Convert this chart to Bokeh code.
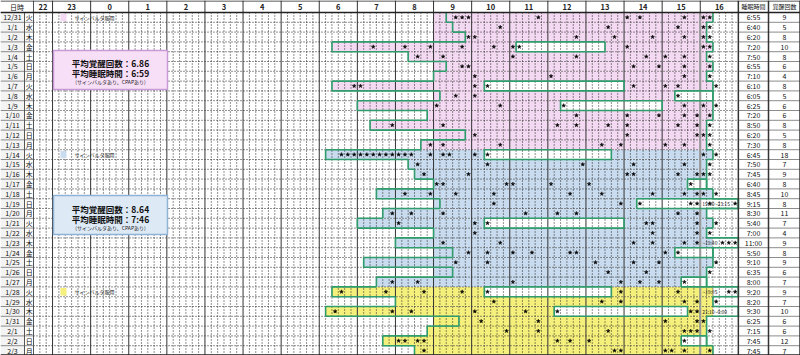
from bokeh.plotting import figure
from bokeh.models import Range1d
from bokeh.embed import file_html
from bokeh.resources import INLINE
from bokeh.core.properties import value

# ---------------- data ----------------
dates = ["12/31", "1/1", "1/2", "1/3", "1/4", "1/5", "1/6", "1/7", "1/8", "1/9", "1/10", "1/11", "1/12", "1/13",
         "1/14", "1/15", "1/16", "1/17", "1/18", "1/19", "1/20", "1/21", "1/22", "1/23", "1/24", "1/25", "1/26", "1/27",
         "1/28", "1/29", "1/30", "1/31", "2/1", "2/2", "2/3"]
weekdays = ["火", "水", "木", "金", "土", "日", "月"] * 5
period = ["pink"] * 14 + ["blue"] * 14 + ["yellow"] * 7

bed_start = ["9:20", "9:30", "9:50", "6:20", "8:20", "9:20", "9:00", "6:20", "9:10", "7:00", "8:50", "7:20", "9:50", "8:40",
             "6:10", "8:20", "8:30", "9:00", "7:30", "9:10", "7:40", "7:00", "9:00", "8:00", "9:30", "7:10", "9:30", "7:30",
             "6:20", "8:00", "6:10", "9:40", "8:50", "7:40", "8:30"]
bed_end = ["16:20", "16:10", "16:10", "16:20", "16:10", "16:20", "16:10", "16:20", "16:20", "16:20", "16:20", "16:10", "16:10", "16:10",
           "16:20", "16:10", "16:10", "16:10", "16:20", "17:00", "16:10", "16:20", "16:10", "17:00", "16:20", "16:20", "16:10", "16:10",
           "17:00", "16:20", "17:00", "16:10", "16:10", "16:10", "16:20"]

gap_row = [3, 7, 8, 9, 14, 17, 19, 21, 24, 27, 28, 30, 33]
gap_from = ["11:10", "10:20", "15:20", "12:20", "10:20", "15:40", "14:20", "10:20", "15:20", "15:30", "10:20", "12:10", "15:30"]
gap_to = ["13:30", "14:00", "16:20", "15:00", "13:40", "16:10", "17:00", "14:00", "16:20", "16:10", "13:40", "15:40", "16:10"]

wakes = [
    ["9:35", "9:45", "9:55", "11:45", "14:05", "14:25", "15:35", "16:05", "16:15"],
    ["10:45", "13:35", "15:25", "16:05", "16:15"],
    ["9:55", "10:05", "12:45", "13:45", "14:45", "15:35", "16:05", "16:15"],
    ["7:25", "8:15", "8:55", "9:45", "10:35", "11:05", "11:15", "14:05", "16:05", "16:15"],
    ["8:35", "9:15", "11:05", "12:45", "14:35", "15:05", "15:35", "16:15"],
    ["9:45", "9:55", "14:15", "14:55", "15:35", "16:15"],
    ["10:05", "12:05", "15:35", "16:15"],
    ["6:55", "7:05", "10:05", "10:25", "14:15", "15:05", "15:25", "16:25"],
    ["9:35", "10:05", "15:25"],
    ["9:05", "10:45", "12:25", "15:35", "16:05", "16:25"],
    ["12:45", "14:05", "14:55", "15:35", "15:55", "16:15"],
    ["7:55", "9:15", "12:15", "12:45", "13:35", "14:05", "15:25", "15:55", "16:15"],
    ["10:05", "14:05", "15:55", "16:05", "16:15"],
    ["8:55", "9:15", "10:45", "13:25", "13:55", "15:05", "15:35", "16:15"],
    ["6:35", "6:45", "6:55", "7:05", "7:15", "7:25", "7:35", "7:45", "7:55", "8:05", "8:15", "8:25",
     "8:55", "9:15", "9:25", "10:05", "10:25", "16:05", "16:25"],
    ["8:35", "10:25", "12:55", "14:15", "15:35", "16:15"],
    ["8:45", "9:55", "14:05", "14:15", "15:25", "15:55", "16:05", "16:15"],
    ["9:05", "9:15", "10:55", "11:05", "12:05", "13:05", "15:45"],
    ["8:15", "8:55", "9:35", "10:35", "12:35", "13:25", "14:45", "15:35", "15:55", "16:05", "16:25"],
    ["10:35", "13:55", "14:25", "15:45", "15:55", "16:15", "16:55"],
    ["7:55", "8:25", "9:15", "11:25", "12:15", "12:45", "15:25", "15:55"],
    ["8:05", "10:05", "10:25", "14:35", "14:45", "15:55", "16:25"],
    ["10:05", "14:45", "15:55", "16:15"],
    ["9:15", "10:45", "14:15", "14:45", "15:35", "15:55", "16:35", "16:45", "16:55"],
    ["9:55", "10:25", "11:05", "11:35", "12:35", "12:45", "15:05", "15:25"],
    ["9:35", "10:25", "13:15", "14:15", "14:55", "16:25"],
    ["13:35", "14:35", "16:15"],
    ["7:55", "8:35", "11:05", "13:55", "14:25", "14:55", "15:35"],
    ["6:35", "7:45", "8:45", "9:45", "10:25", "13:55", "15:25", "16:45", "16:55"],
    ["10:35", "13:25", "13:55", "15:35", "15:55", "16:25"],
    ["6:25", "7:55", "8:25", "10:05", "11:25", "12:15", "15:45", "15:55"],
    ["10:15", "11:45", "15:05", "15:55", "16:05"],
    ["10:55", "11:45", "13:35", "15:35", "15:45", "15:55", "16:15"],
    ["8:05", "8:15", "8:35", "8:45", "12:15", "12:35", "13:05", "15:35"],
    ["8:45", "13:45", "13:55", "15:05", "15:15", "15:35", "16:15"],
]

sleep_time = ["6:55", "6:40", "6:20", "7:20", "7:50", "6:55", "7:10", "6:10", "6:05", "6:25", "7:20", "8:50", "6:20", "7:30",
              "6:45", "7:50", "7:45", "6:40", "8:45", "9:15", "8:30", "5:40", "7:00", "11:00", "5:50", "9:10", "6:35", "8:00",
              "9:20", "8:20", "9:30", "6:25", "7:15", "7:45", "7:45"]
wake_count = [9, 5, 8, 10, 8, 6, 4, 8, 5, 6, 6, 8, 5, 8,
              18, 7, 9, 8, 10, 8, 11, 7, 4, 9, 8, 9, 6, 7,
              9, 7, 10, 6, 6, 12, 7]

note_row = [19, 23, 28, 30]
note_text = ["19:00~23:15", "~19:40", "~19:05", "21:10~0:00"]

hour_labels = ["22", "23", "0", "1", "2", "3", "4", "5", "6", "7", "8", "9", "10", "11", "12", "13", "14", "15", "16"]
legend_rows = [0, 14, 28]
legend_label = "サインバルタ服用"
summary_wake = ["平均覚醒回数：6.86", "平均覚醒回数：8.64"]
summary_sleep = ["平均睡眠時間：6:59", "平均睡眠時間：7:46"]
summary_note = "(サインバルタあり、CPAPあり)"

# ---------------- styles / layout ----------------
FILL = {"pink": "#f3d9f1", "blue": "#c9dbee", "yellow": "#f5ef7c"}
BOX_FILL = {"pink": "#f8dff8", "blue": "#dde9f5"}
BOX_LINE = {"pink": "#c79ad6", "blue": "#8fb3d6"}
GREEN = "#2f9e6c"
FONT = value("Noto Sans CJK JP")
W, H = 800, 355
PXH = 38.1            # pixels per hour
RH = 9.8              # pixels per row
HDR = 12 / RH         # header height in row units
T0 = -1.5             # 22:30
X0 = T0 - 33 / PXH
X1 = X0 + W / PXH
N = len(dates)
BG_START = 9.0        # period shading begins at 9:00
FILL_CAP = 16 + 20 / 60


def tm(s):
    h, m = s.split(":")
    v = int(h) + int(m) / 60
    return v - 24 if int(h) >= 20 else v


def px(x):
    return X0 + x / PXH


def py(y):
    return -HDR + y / RH


p = figure(width=W, height=H, x_range=Range1d(X0, X1), y_range=Range1d(N + 0.0, -HDR),
           output_backend="svg", toolbar_location=None, x_axis_type=None, y_axis_type=None,
           min_border=0, min_border_left=0, min_border_right=0, min_border_top=0, min_border_bottom=0)
p.outline_line_color = None
p.xgrid.visible = False
p.ygrid.visible = False
p.background_fill_color = "white"

S = [tm(s) for s in bed_start]
E = [tm(e) for e in bed_end]

# period shading (sleep fill)
fl, fr, ft, fb, fc = [], [], [], [], []
for i in range(N):
    fl.append(min(S[i], BG_START))
    fr.append(min(E[i], FILL_CAP))
    ft.append(i)
    fb.append(i + 1)
    fc.append(FILL[period[i]])
p.quad(left=fl, right=fr, top=ft, bottom=fb, fill_color=fc, line_color=None)

# awake gaps (white)
p.quad(left=[tm(a) for a in gap_from], right=[tm(b) for b in gap_to],
       top=gap_row, bottom=[r + 1 for r in gap_row], fill_color="white", line_color=None)

# grid: minor dotted verticals every 10 minutes
minor = []
k = 0
while T0 + k / 6 < 17 - 1e-6:
    t = T0 + k / 6
    if abs(t - round(t)) > 1e-6:
        minor.append(t)
    k += 1
p.segment(x0=minor, y0=[0] * len(minor), x1=minor, y1=[N] * len(minor),
          line_color="#1a1a1a", line_dash="1 2", line_width=1, line_alpha=0.95)
# horizontal dotted lines
rows_y = list(range(1, N))
p.segment(x0=[T0] * len(rows_y), y0=rows_y, x1=[17] * len(rows_y), y1=rows_y,
          line_color="#1a1a1a", line_dash="1 2", line_width=1, line_alpha=0.95)
# hour lines
hours = list(range(-1, 17))
p.segment(x0=hours, y0=[-HDR] * len(hours), x1=hours, y1=[N] * len(hours),
          line_color="#333333", line_width=1)
p.segment(x0=[16], y0=[0], x1=[16], y1=[N], line_color="#9a9a9a", line_width=2)

# green outline of time in bed
sx0, sy0, sx1, sy1 = [], [], [], []
for i in range(N):
    sx0 += [S[i], E[i]]
    sy0 += [i, i]
    sx1 += [S[i], E[i]]
    sy1 += [i + 1, i + 1]
    if i + 1 < N:
        sx0 += [S[i], E[i]]
        sy0 += [i + 1, i + 1]
        sx1 += [S[i + 1], E[i + 1]]
        sy1 += [i + 1, i + 1]
sx0 += [S[-1]]; sy0 += [N]; sx1 += [E[-1]]; sy1 += [N]
p.segment(x0=sx0, y0=sy0, x1=sx1, y1=sy1, line_color=GREEN, line_width=1.6)
p.quad(left=[tm(a) for a in gap_from], right=[tm(b) for b in gap_to],
       top=gap_row, bottom=[r + 1 for r in gap_row], fill_color=None, line_color=GREEN, line_width=1.6)

# wake markers
wx, wy = [], []
for i, lst in enumerate(wakes):
    for s in lst:
        wx.append(tm(s))
        wy.append(i + 0.5)
p.scatter(x=wx, y=wy, marker="star", size=4, fill_color="black", line_color="black", line_width=0.5)

# notes past 16:00
p.text(x=[16.05] * len(note_row), y=[r + 0.5 for r in note_row], text=note_text,
       text_font=FONT, text_font_size="5px", text_baseline="middle", text_align="left", text_color="#222222")

# ---------- left table ----------
yc = [i + 0.5 for i in range(N)]
p.quad(left=[X0], right=[px(24)], top=[0], bottom=[N], fill_color="#f4f4f4", line_color=None)
p.segment(x0=[X0] * (N + 1), y0=list(range(N + 1)), x1=[T0] * (N + 1), y1=list(range(N + 1)),
          line_color="#8c8c8c", line_width=1)
p.segment(x0=[px(24), T0], y0=[0, -HDR], x1=[px(24), T0], y1=[N, N], line_color="#555555", line_width=1)
p.text(x=[px(12)] * N, y=yc, text=dates, text_font=FONT, text_font_size="7px",
       text_align="center", text_baseline="middle", text_color="#111111")
p.text(x=[px(28.7)] * N, y=yc, text=weekdays, text_font=FONT, text_font_size="7px",
       text_align="center", text_baseline="middle", text_color="#111111")

# ---------- right table ----------
p.segment(x0=[17] * (N + 1), y0=list(range(N + 1)), x1=[X1] * (N + 1), y1=list(range(N + 1)),
          line_color="#8c8c8c", line_width=1)
p.segment(x0=[17, px(768), px(799.5)], y0=[-HDR] * 3, x1=[17, px(768), px(799.5)], y1=[N] * 3,
          line_color="#333333", line_width=1.5)
p.text(x=[px(753)] * N, y=yc, text=sleep_time, text_font=FONT, text_font_size="7px",
       text_align="center", text_baseline="middle", text_color="#111111")
p.text(x=[px(784)] * N, y=yc, text=[str(v) for v in wake_count], text_font=FONT, text_font_size="7px",
       text_align="center", text_baseline="middle", text_color="#111111")

# ---------- header ----------
hx = [(-1.5 + -1) / 2] + [h + 0.5 for h in range(-1, 17)]
p.text(x=hx, y=[-HDR / 2] * len(hx), text=hour_labels, text_font=FONT, text_font_size="7.5px",
       text_font_style="bold", text_align="center", text_baseline="middle", text_color="#222222")
p.text(x=[px(16.5), px(753), px(784)], y=[-HDR / 2] * 3, text=["日時", "睡眠時間", "覚醒回数"],
       text_font=FONT, text_font_size=["7px", "6px", "6px"], text_align="center", text_baseline="middle",
       text_color="#111111")
p.segment(x0=[X0], y0=[0], x1=[X1], y1=[0], line_color="#222222", line_width=1.5)
p.segment(x0=[X0], y0=[-HDR + 0.05], x1=[X1], y1=[-HDR + 0.05], line_color="#222222", line_width=1)
p.segment(x0=[X0], y0=[N - 0.05], x1=[X1], y1=[N - 0.05], line_color="#222222", line_width=1.5)

# ---------- legend swatches ----------
p.quad(left=[px(60)] * 3, right=[px(66)] * 3, top=[r + 0.12 for r in legend_rows],
       bottom=[r + 0.88 for r in legend_rows], fill_color=[FILL[period[r]] for r in legend_rows], line_color=None)
p.text(x=[px(74)] * 3, y=[r + 0.5 for r in legend_rows], text=[legend_label] * 3, text_font=FONT,
       text_font_size="5px", text_align="left", text_baseline="middle", text_color="#222222")

# ---------- summary boxes ----------
box_periods = ["pink", "blue"]
box_top = [py(50), py(195)]
box_bot = [py(89), py(234)]
p.quad(left=[px(53)] * 2, right=[px(167)] * 2, top=box_top, bottom=box_bot,
       fill_color=[BOX_FILL[k] for k in box_periods], line_color=[BOX_LINE[k] for k in box_periods], line_width=1.5)
p.text(x=[px(110)] * 2, y=[py(62), py(208)], text=summary_wake, text_font=FONT, text_font_size="8.5px",
       text_font_style="bold", text_align="center", text_baseline="middle", text_color="#111111")
p.text(x=[px(110)] * 2, y=[py(72), py(218)], text=summary_sleep, text_font=FONT, text_font_size="8.5px",
       text_font_style="bold", text_align="center", text_baseline="middle", text_color="#111111")
p.text(x=[px(110)] * 2, y=[py(81), py(227)], text=[summary_note] * 2, text_font=FONT, text_font_size="5px",
       text_align="center", text_baseline="middle", text_color="#222222")

open("out.html", "w").write(file_html(p, INLINE))
